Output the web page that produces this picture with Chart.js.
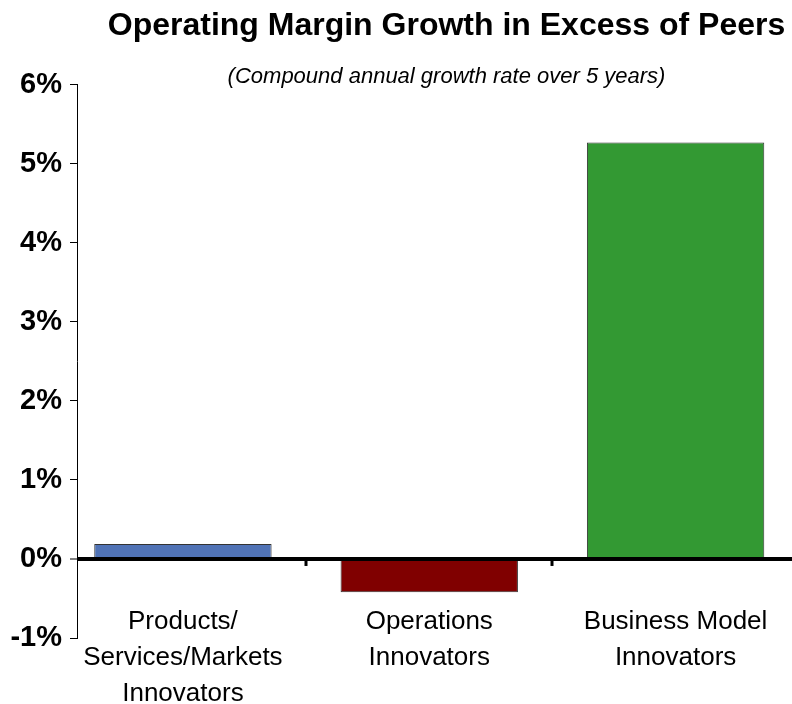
<!DOCTYPE html>
<html>
<head>
<meta charset="utf-8">
<script src="https://cdn.jsdelivr.net/npm/chart.js@4.4.1/dist/chart.umd.min.js"></script>
<style>
html, body { margin: 0; padding: 0; overflow: hidden; background: #fff; }
#wrap { position: relative; width: 816px; height: 704px; overflow: hidden; }
canvas { display: block; }
</style>
</head>
<body>
<div id="wrap"><canvas id="c" width="816" height="704"></canvas></div>
<script>
const categories = [
  ['Products/', 'Services/Markets', 'Innovators'],
  ['Operations', 'Innovators'],
  ['Business Model', 'Innovators']
];
const growthValues = [0.19, -0.42, 5.27];
const barColors = ['#5073B6', '#800000', '#339933'];
const yTickValues = [-1, 0, 1, 2, 3, 4, 5, 6];
const titleText = 'Operating Margin Growth in Excess of Peers';
const subtitleText = '(Compound annual growth rate over 5 years)';

const FONT = '"Liberation Sans", Arial, Helvetica, sans-serif';

const boundaryTicks = {
  id: 'boundaryTicks',
  afterDraw(chart) {
    const xs = chart.scales.x, ys = chart.scales.y;
    const y0 = ys.getPixelForValue(0);
    const ctx = chart.ctx;
    ctx.save();
    ctx.strokeStyle = '#000';
    ctx.lineWidth = 3;
    categories.forEach((_, i) => {
      const px = Math.round(xs.getPixelForValue(i + 0.5));
      ctx.beginPath();
      ctx.moveTo(px, y0);
      ctx.lineTo(px, y0 + 7);
      ctx.stroke();
    });
    ctx.restore();
  }
};

new Chart(document.getElementById('c'), {
  type: 'bar',
  data: {
    datasets: [{
      data: growthValues.map((v, i) => ({ x: i, y: v })),
      backgroundColor: barColors,
      borderColor: '#333333',
      borderWidth: 1,
      barPercentage: 0.9,
      categoryPercentage: 0.8
    }]
  },
  options: {
    responsive: false,
    animation: false,
    devicePixelRatio: 1,
    layout: { padding: 0 },
    plugins: {
      legend: { display: false },
      tooltip: { enabled: false },
      title: {
        display: true, text: titleText, fullSize: false, color: '#000',
        font: { family: FONT, size: 32, weight: 'bold', lineHeight: 1.2 },
        padding: { top: 7, bottom: 0 }
      },
      subtitle: {
        display: true, text: subtitleText, fullSize: false, color: '#000',
        font: { family: FONT, size: 22, style: 'italic', lineHeight: 0.7 },
        padding: { top: 24, bottom: 0 }
      }
    },
    scales: {
      x: {
        type: 'linear',
        position: 'bottom',
        offset: false,
        min: -0.43,
        max: 2.57,
        grid: { display: false, drawTicks: false, offset: false },
        border: { display: false },
        afterBuildTicks: s => { s.ticks = categories.map((_, i) => ({ value: i })); },
        afterFit: s => { s.height = 66; },
        ticks: {
          mirror: true,
          autoSkip: false, maxRotation: 0, minRotation: 0, padding: -2, color: '#000',
          font: { family: FONT, size: 26, lineHeight: 1.373 },
          callback: v => categories[v]
        }
      },
      y: {
        min: -1,
        max: 6,
        afterFit: s => { s.width = 77; },
        afterBuildTicks: s => { s.ticks = yTickValues.map(v => ({ value: v })); },
        grid: {
          z: 1,
          color: c => (c.tick && c.tick.value === 0) ? '#000' : 'rgba(0,0,0,0)',
          lineWidth: c => (c.tick && c.tick.value === 0) ? 4 : 1,
          tickColor: '#000', tickWidth: 1, tickLength: 7, drawTicks: true
        },
        border: { display: true, color: '#000', width: 1, z: 2 },
        ticks: {
          color: '#000', padding: 8,
          font: { family: FONT, size: 29, weight: 'bold' },
          callback: v => v + '%'
        }
      }
    }
  },
  plugins: [boundaryTicks]
});
</script>
</body>
</html>
